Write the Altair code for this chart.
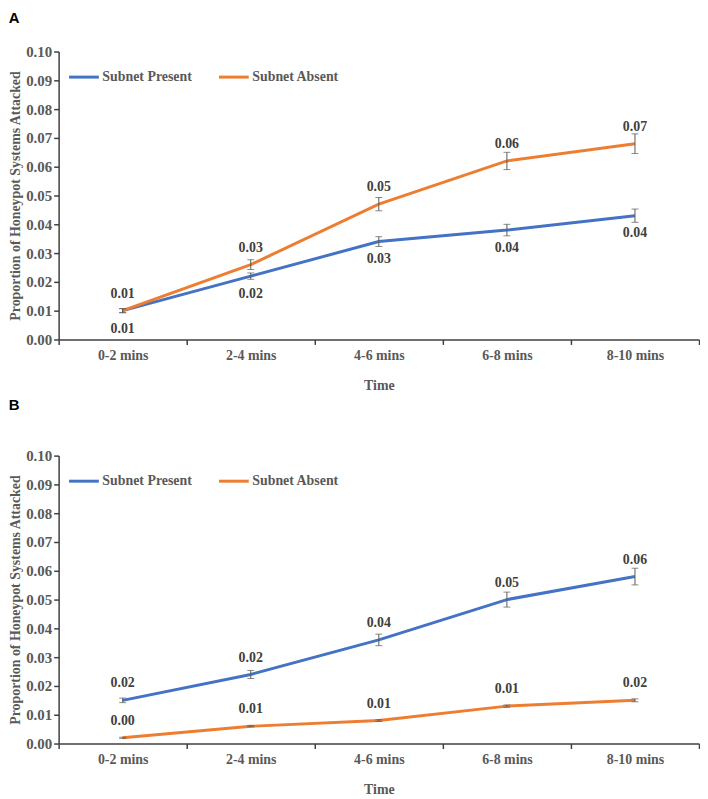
import altair as alt
import pandas as pd

categories = ["0-2 mins", "2-4 mins", "4-6 mins", "6-8 mins", "8-10 mins"]
series_names = ["Subnet Present", "Subnet Absent"]
series_colors = ["#4472C4", "#ED7D31"]

# Panel A
a_present = [0.010, 0.022, 0.034, 0.038, 0.043]
a_present_err = [0.0007, 0.0011, 0.0017, 0.0020, 0.0023]
a_present_labels = ["0.01", "0.02", "0.03", "0.04", "0.04"]
a_absent = [0.010, 0.026, 0.047, 0.062, 0.068]
a_absent_err = [0.0007, 0.0017, 0.0023, 0.0030, 0.0034]
a_absent_labels = ["0.01", "0.03", "0.05", "0.06", "0.07"]

# Panel B
b_present = [0.015, 0.024, 0.036, 0.050, 0.058]
b_present_err = [0.0008, 0.0014, 0.0020, 0.0026, 0.0029]
b_present_labels = ["0.02", "0.02", "0.04", "0.05", "0.06"]
b_absent = [0.002, 0.006, 0.008, 0.013, 0.015]
b_absent_err = [0.0002, 0.0002, 0.0003, 0.0004, 0.0005]
b_absent_labels = ["0.00", "0.01", "0.01", "0.01", "0.02"]

y_ticks = [0.0, 0.01, 0.02, 0.03, 0.04, 0.05, 0.06, 0.07, 0.08, 0.09, 0.10]

SERIF = "Liberation Serif"
AXIS_COLOR = "#404040"
LABEL_COLOR = "#595959"


def build_df(present, perr, plab, absent, aerr, alab, present_side):
    rows = []
    for i, c in enumerate(categories):
        rows.append(dict(time=c, series=series_names[0], value=present[i],
                         lo=present[i] - perr[i], hi=present[i] + perr[i],
                         label=plab[i], side=present_side))
        rows.append(dict(time=c, series=series_names[1], value=absent[i],
                         lo=absent[i] - aerr[i], hi=absent[i] + aerr[i],
                         label=alab[i], side="above"))
    return pd.DataFrame(rows)


X_AXIS = alt.Axis(title="Time", labelAngle=0, tickBand="extent",
                  labelFont=SERIF, labelFontSize=14, labelFontWeight="bold",
                  labelColor=LABEL_COLOR, titleFont=SERIF, titleFontSize=14,
                  titleFontWeight="bold", titleColor=LABEL_COLOR,
                  domainColor=AXIS_COLOR, domainWidth=1.5,
                  tickColor=AXIS_COLOR, tickSize=5, tickWidth=1.5,
                  labelPadding=4, titlePadding=16)
X_SCALE = alt.Scale(type="band", paddingInner=0, paddingOuter=0)
Y_SCALE = alt.Scale(domain=[0, 0.1], nice=False, zero=True)
Y_AXIS = alt.Axis(title="Proportion of Honeypot Systems Attacked", values=y_ticks,
                  format=".2f", grid=False, labelOverlap=False, labelFont=SERIF,
                  labelFontSize=15, labelFontWeight="bold", labelColor=LABEL_COLOR,
                  titleFont=SERIF, titleFontSize=14, titleFontWeight="bold",
                  titleColor=LABEL_COLOR, domainColor=AXIS_COLOR, domainWidth=1.5,
                  tickColor=AXIS_COLOR, tickSize=5, tickWidth=1.5, labelPadding=2,
                  titlePadding=3)


def xe():
    return alt.X("time:N", sort=categories, scale=X_SCALE, axis=X_AXIS)


def ye(field):
    return alt.Y(f"{field}:Q", scale=Y_SCALE, axis=Y_AXIS)


def panel(letter, df, title_offset):
    base = alt.Chart(df)

    lines = base.mark_line(strokeWidth=3).encode(
        x=xe(),
        y=ye("value"),
        color=alt.Color("series:N",
                        scale=alt.Scale(domain=series_names, range=series_colors),
                        legend=alt.Legend(orient="none", legendX=9, legendY=9,
                                          direction="horizontal", title=None,
                                          symbolType="stroke", symbolSize=900,
                                          symbolStrokeWidth=3, labelFont=SERIF,
                                          labelFontSize=14, labelFontWeight="bold",
                                          labelColor=LABEL_COLOR, columnPadding=20,
                                          labelOffset=2, padding=0)),
        detail="series:N",
    )
    err = base.mark_rule(color=LABEL_COLOR, strokeWidth=1).encode(
        x=xe(), y=ye("lo"), y2="hi:Q")
    cap_lo = base.mark_tick(color=LABEL_COLOR, size=7, thickness=1).encode(
        x=xe(), y=ye("lo"))
    cap_hi = base.mark_tick(color=LABEL_COLOR, size=7, thickness=1).encode(
        x=xe(), y=ye("hi"))
    above = base.mark_text(font=SERIF, fontSize=14, fontWeight="bold", color=AXIS_COLOR,
                           baseline="middle", dy=-17).encode(
        x=xe(), y=ye("value"), text="label:N"
    ).transform_filter(alt.datum.side == "above")
    below = base.mark_text(font=SERIF, fontSize=14, fontWeight="bold", color=AXIS_COLOR,
                           baseline="middle", dy=18).encode(
        x=xe(), y=ye("value"), text="label:N"
    ).transform_filter(alt.datum.side == "below")

    return alt.layer(lines, err, cap_lo, cap_hi, above, below).properties(
        width=645, height=290,
        title=alt.Title(letter, anchor="start", frame="bounds", font="Liberation Sans",
                        fontSize=15, fontWeight="bold", color="black",
                        offset=title_offset),
    )


df_a = build_df(a_present, a_present_err, a_present_labels,
                a_absent, a_absent_err, a_absent_labels, "below")
df_b = build_df(b_present, b_present_err, b_present_labels,
                b_absent, b_absent_err, b_absent_labels, "above")

chart = alt.vconcat(panel("A", df_a, 19), panel("B", df_b, 36), spacing=6).resolve_legend(
    color="independent"
).configure_view(stroke=None).properties(padding=0)

chart.save("out.html", embed_options={"renderer": "svg", "actions": False})
